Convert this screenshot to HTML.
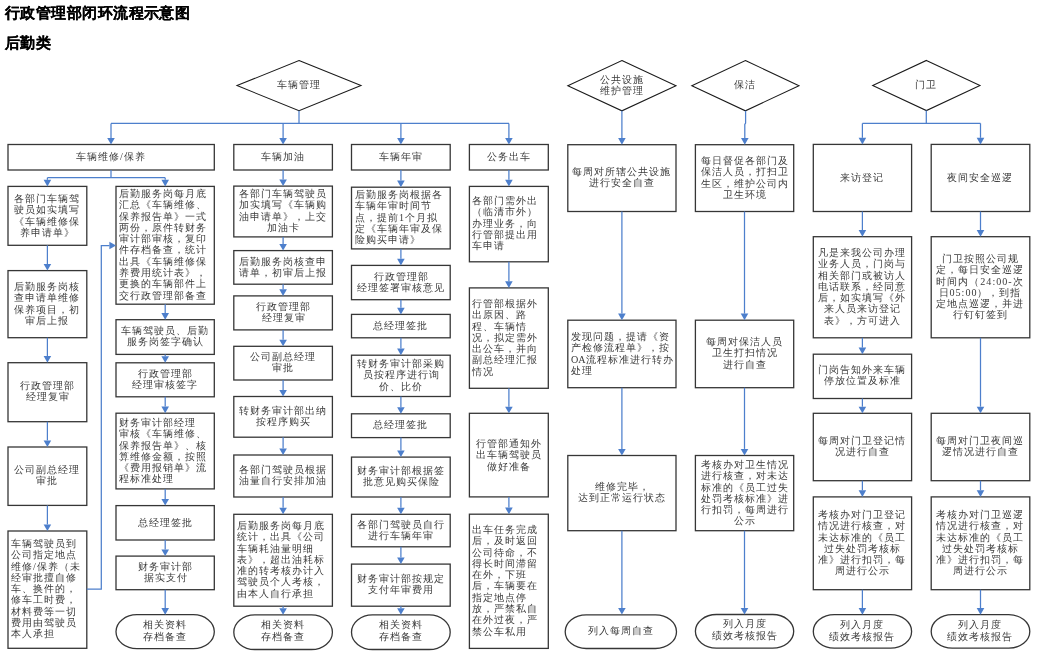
<!DOCTYPE html>
<html><head><meta charset="utf-8">
<style>
html,body{margin:0;padding:0;background:#fff;}
body{width:1049px;height:671px;position:relative;overflow:hidden;font-family:"Liberation Serif",serif;color:#222;}
.t{position:absolute;font-family:"Liberation Sans",sans-serif;font-weight:bold;color:#000;font-size:15px;line-height:18px;letter-spacing:0.45px;will-change:transform;-webkit-text-stroke:0.15px #000;white-space:nowrap;}
.b{position:absolute;box-sizing:border-box;padding-bottom:1.2px;display:flex;align-items:center;justify-content:center;}
.b div{will-change:transform;font-size:10.1px;line-height:11.3px;white-space:nowrap;color:#3a3a3a;letter-spacing:1.0px;}
.c div{text-align:center;}
.l{justify-content:flex-start;}
.tm div{line-height:12.3px;}
.l div{text-align:left;padding-left:3px;}
svg{position:absolute;left:0;top:0;}
</style></head><body>

<div class="t" style="left:5px;top:4px;">行政管理部闭环流程示意图</div>
<div class="t" style="left:5px;top:34px;">后勤类</div>
<svg width="1049" height="671" viewBox="0 0 1049 671">
<rect x="8.0" y="144.5" width="206.3" height="25.5" fill="#fff" stroke="#363636" stroke-width="1.3"/>
<rect x="8.0" y="186.4" width="78.8" height="58.9" fill="#fff" stroke="#363636" stroke-width="1.3"/>
<rect x="8.0" y="270.6" width="78.8" height="67.1" fill="#fff" stroke="#363636" stroke-width="1.3"/>
<rect x="8.0" y="362.7" width="78.8" height="59.0" fill="#fff" stroke="#363636" stroke-width="1.3"/>
<rect x="8.0" y="447.0" width="78.8" height="58.4" fill="#fff" stroke="#363636" stroke-width="1.3"/>
<rect x="8.0" y="531.0" width="78.8" height="117.3" fill="#fff" stroke="#363636" stroke-width="1.3"/>
<rect x="116.0" y="186.4" width="98.3" height="117.8" fill="#fff" stroke="#363636" stroke-width="1.3"/>
<rect x="116.0" y="319.7" width="98.3" height="34.7" fill="#fff" stroke="#363636" stroke-width="1.3"/>
<rect x="116.0" y="362.8" width="98.3" height="34.0" fill="#fff" stroke="#363636" stroke-width="1.3"/>
<rect x="116.0" y="413.2" width="98.3" height="75.7" fill="#fff" stroke="#363636" stroke-width="1.3"/>
<rect x="116.0" y="505.6" width="98.3" height="34.4" fill="#fff" stroke="#363636" stroke-width="1.3"/>
<rect x="116.0" y="556.1" width="98.3" height="33.6" fill="#fff" stroke="#363636" stroke-width="1.3"/>
<rect x="116.0" y="614.7" width="98.3" height="33.9" rx="21" ry="16.9" fill="#fff" stroke="#363636" stroke-width="1.3"/>
<rect x="233.8" y="144.5" width="98.6" height="25.5" fill="#fff" stroke="#363636" stroke-width="1.3"/>
<rect x="233.8" y="186.1" width="98.6" height="50.8" fill="#fff" stroke="#363636" stroke-width="1.3"/>
<rect x="233.8" y="250.6" width="98.6" height="33.6" fill="#fff" stroke="#363636" stroke-width="1.3"/>
<rect x="233.8" y="295.9" width="98.6" height="34.0" fill="#fff" stroke="#363636" stroke-width="1.3"/>
<rect x="233.8" y="346.3" width="98.6" height="33.7" fill="#fff" stroke="#363636" stroke-width="1.3"/>
<rect x="233.8" y="396.5" width="98.6" height="40.7" fill="#fff" stroke="#363636" stroke-width="1.3"/>
<rect x="233.8" y="455.0" width="98.6" height="42.0" fill="#fff" stroke="#363636" stroke-width="1.3"/>
<rect x="233.8" y="514.3" width="98.6" height="91.9" fill="#fff" stroke="#363636" stroke-width="1.3"/>
<rect x="233.8" y="614.8" width="98.6" height="34.7" rx="21" ry="17.4" fill="#fff" stroke="#363636" stroke-width="1.3"/>
<rect x="351.5" y="144.5" width="98.7" height="25.5" fill="#fff" stroke="#363636" stroke-width="1.3"/>
<rect x="351.5" y="187.2" width="98.7" height="61.7" fill="#fff" stroke="#363636" stroke-width="1.3"/>
<rect x="351.5" y="265.4" width="98.7" height="34.3" fill="#fff" stroke="#363636" stroke-width="1.3"/>
<rect x="351.5" y="314.4" width="98.7" height="23.4" fill="#fff" stroke="#363636" stroke-width="1.3"/>
<rect x="351.5" y="355.2" width="98.7" height="41.3" fill="#fff" stroke="#363636" stroke-width="1.3"/>
<rect x="351.5" y="413.8" width="98.7" height="23.8" fill="#fff" stroke="#363636" stroke-width="1.3"/>
<rect x="351.5" y="457.1" width="98.7" height="39.9" fill="#fff" stroke="#363636" stroke-width="1.3"/>
<rect x="351.5" y="514.3" width="98.7" height="32.5" fill="#fff" stroke="#363636" stroke-width="1.3"/>
<rect x="351.5" y="564.1" width="98.7" height="42.1" fill="#fff" stroke="#363636" stroke-width="1.3"/>
<rect x="351.5" y="614.8" width="98.7" height="34.7" rx="21" ry="17.4" fill="#fff" stroke="#363636" stroke-width="1.3"/>
<rect x="469.4" y="144.5" width="78.9" height="25.5" fill="#fff" stroke="#363636" stroke-width="1.3"/>
<rect x="469.4" y="186.4" width="78.9" height="75.4" fill="#fff" stroke="#363636" stroke-width="1.3"/>
<rect x="469.4" y="287.9" width="78.9" height="100.4" fill="#fff" stroke="#363636" stroke-width="1.3"/>
<rect x="469.4" y="413.3" width="78.9" height="83.6" fill="#fff" stroke="#363636" stroke-width="1.3"/>
<rect x="469.4" y="514.2" width="78.9" height="134.2" fill="#fff" stroke="#363636" stroke-width="1.3"/>
<rect x="567.8" y="144.7" width="108.2" height="66.8" fill="#fff" stroke="#363636" stroke-width="1.3"/>
<rect x="567.8" y="320.2" width="108.2" height="67.5" fill="#fff" stroke="#363636" stroke-width="1.3"/>
<rect x="567.8" y="455.5" width="108.2" height="75.2" fill="#fff" stroke="#363636" stroke-width="1.3"/>
<rect x="565.2" y="614.8" width="111.3" height="33.7" rx="21" ry="16.9" fill="#fff" stroke="#363636" stroke-width="1.3"/>
<rect x="695.4" y="144.7" width="98.3" height="66.8" fill="#fff" stroke="#363636" stroke-width="1.3"/>
<rect x="695.4" y="320.2" width="98.3" height="67.5" fill="#fff" stroke="#363636" stroke-width="1.3"/>
<rect x="695.4" y="455.5" width="98.3" height="75.2" fill="#fff" stroke="#363636" stroke-width="1.3"/>
<rect x="695.4" y="614.5" width="98.3" height="33.6" rx="21" ry="16.8" fill="#fff" stroke="#363636" stroke-width="1.3"/>
<rect x="813.3" y="144.4" width="98.3" height="67.1" fill="#fff" stroke="#363636" stroke-width="1.3"/>
<rect x="813.3" y="236.7" width="98.3" height="101.1" fill="#fff" stroke="#363636" stroke-width="1.3"/>
<rect x="813.3" y="354.2" width="98.3" height="44.3" fill="#fff" stroke="#363636" stroke-width="1.3"/>
<rect x="813.3" y="413.3" width="98.3" height="67.4" fill="#fff" stroke="#363636" stroke-width="1.3"/>
<rect x="813.3" y="496.9" width="98.3" height="92.8" fill="#fff" stroke="#363636" stroke-width="1.3"/>
<rect x="813.3" y="614.7" width="98.3" height="33.5" rx="21" ry="16.8" fill="#fff" stroke="#363636" stroke-width="1.3"/>
<rect x="931.2" y="144.4" width="98.6" height="67.1" fill="#fff" stroke="#363636" stroke-width="1.3"/>
<rect x="931.2" y="236.7" width="98.6" height="101.1" fill="#fff" stroke="#363636" stroke-width="1.3"/>
<rect x="931.2" y="413.3" width="98.6" height="67.4" fill="#fff" stroke="#363636" stroke-width="1.3"/>
<rect x="931.2" y="496.9" width="98.6" height="92.8" fill="#fff" stroke="#363636" stroke-width="1.3"/>
<rect x="931.2" y="614.7" width="98.6" height="33.5" rx="21" ry="16.8" fill="#fff" stroke="#363636" stroke-width="1.3"/>
<polygon points="299.0,60.5 361.0,85.6 299.0,110.7 237.0,85.6" fill="#fff" stroke="#1a1a1a" stroke-width="1.05"/>
<polygon points="621.9,60.5 676.0,85.7 621.9,110.8 567.8,85.7" fill="#fff" stroke="#1a1a1a" stroke-width="1.05"/>
<polygon points="745.4,60.5 799.0,85.7 745.4,110.8 691.8,85.7" fill="#fff" stroke="#1a1a1a" stroke-width="1.05"/>
<polygon points="926.4,60.4 980.0,85.5 926.4,110.6 872.7,85.5" fill="#fff" stroke="#1a1a1a" stroke-width="1.05"/>
<polyline points="299.0,110.7 299.0,123.4" fill="none" stroke="#4d7fcc" stroke-width="1.25"/>
<polyline points="111.0,123.4 509.0,123.4" fill="none" stroke="#4d7fcc" stroke-width="1.25"/>
<polyline points="111.0,123.4 111.0,137.9" fill="none" stroke="#4d7fcc" stroke-width="1.25"/>
<polygon points="107.2,137.9 114.8,137.9 111.0,144.5" fill="#4d7fcc"/>
<polyline points="283.1,123.4 283.1,137.9" fill="none" stroke="#4d7fcc" stroke-width="1.25"/>
<polygon points="279.3,137.9 286.9,137.9 283.1,144.5" fill="#4d7fcc"/>
<polyline points="400.9,123.4 400.9,137.9" fill="none" stroke="#4d7fcc" stroke-width="1.25"/>
<polygon points="397.1,137.9 404.7,137.9 400.9,144.5" fill="#4d7fcc"/>
<polyline points="508.9,123.4 508.9,137.9" fill="none" stroke="#4d7fcc" stroke-width="1.25"/>
<polygon points="505.1,137.9 512.7,137.9 508.9,144.5" fill="#4d7fcc"/>
<polyline points="111.0,170.0 111.0,177.7" fill="none" stroke="#4d7fcc" stroke-width="1.25"/>
<polyline points="47.4,177.7 165.2,177.7" fill="none" stroke="#4d7fcc" stroke-width="1.25"/>
<polyline points="47.4,177.7 47.4,179.8" fill="none" stroke="#4d7fcc" stroke-width="1.25"/>
<polygon points="43.6,179.8 51.2,179.8 47.4,186.4" fill="#4d7fcc"/>
<polyline points="165.2,177.7 165.2,179.8" fill="none" stroke="#4d7fcc" stroke-width="1.25"/>
<polygon points="161.4,179.8 169.0,179.8 165.2,186.4" fill="#4d7fcc"/>
<polyline points="47.4,245.3 47.4,264.0" fill="none" stroke="#4d7fcc" stroke-width="1.25"/>
<polygon points="43.6,264.0 51.2,264.0 47.4,270.6" fill="#4d7fcc"/>
<polyline points="47.4,337.7 47.4,356.1" fill="none" stroke="#4d7fcc" stroke-width="1.25"/>
<polygon points="43.6,356.1 51.2,356.1 47.4,362.7" fill="#4d7fcc"/>
<polyline points="47.4,421.7 47.4,440.4" fill="none" stroke="#4d7fcc" stroke-width="1.25"/>
<polygon points="43.6,440.4 51.2,440.4 47.4,447.0" fill="#4d7fcc"/>
<polyline points="47.4,505.4 47.4,524.4" fill="none" stroke="#4d7fcc" stroke-width="1.25"/>
<polygon points="43.6,524.4 51.2,524.4 47.4,531.0" fill="#4d7fcc"/>
<polyline points="86.8,589.2 101.3,589.2 101.3,245.5 109.4,245.5" fill="none" stroke="#4d7fcc" stroke-width="1.25"/>
<polygon points="109.4,241.7 109.4,249.3 116.0,245.5" fill="#4d7fcc"/>
<polyline points="165.2,304.2 165.2,313.1" fill="none" stroke="#4d7fcc" stroke-width="1.25"/>
<polygon points="161.4,313.1 169.0,313.1 165.2,319.7" fill="#4d7fcc"/>
<polyline points="165.2,354.4 165.2,356.2" fill="none" stroke="#4d7fcc" stroke-width="1.25"/>
<polygon points="161.4,356.2 169.0,356.2 165.2,362.8" fill="#4d7fcc"/>
<polyline points="165.2,396.8 165.2,406.6" fill="none" stroke="#4d7fcc" stroke-width="1.25"/>
<polygon points="161.4,406.6 169.0,406.6 165.2,413.2" fill="#4d7fcc"/>
<polyline points="165.2,488.9 165.2,499.0" fill="none" stroke="#4d7fcc" stroke-width="1.25"/>
<polygon points="161.4,499.0 169.0,499.0 165.2,505.6" fill="#4d7fcc"/>
<polyline points="165.2,540.0 165.2,549.5" fill="none" stroke="#4d7fcc" stroke-width="1.25"/>
<polygon points="161.4,549.5 169.0,549.5 165.2,556.1" fill="#4d7fcc"/>
<polyline points="165.2,589.7 165.2,608.1" fill="none" stroke="#4d7fcc" stroke-width="1.25"/>
<polygon points="161.4,608.1 169.0,608.1 165.2,614.7" fill="#4d7fcc"/>
<polyline points="283.1,170.0 283.1,179.5" fill="none" stroke="#4d7fcc" stroke-width="1.25"/>
<polygon points="279.3,179.5 286.9,179.5 283.1,186.1" fill="#4d7fcc"/>
<polyline points="283.1,236.9 283.1,244.0" fill="none" stroke="#4d7fcc" stroke-width="1.25"/>
<polygon points="279.3,244.0 286.9,244.0 283.1,250.6" fill="#4d7fcc"/>
<polyline points="283.1,284.2 283.1,289.3" fill="none" stroke="#4d7fcc" stroke-width="1.25"/>
<polygon points="279.3,289.3 286.9,289.3 283.1,295.9" fill="#4d7fcc"/>
<polyline points="283.1,329.9 283.1,339.7" fill="none" stroke="#4d7fcc" stroke-width="1.25"/>
<polygon points="279.3,339.7 286.9,339.7 283.1,346.3" fill="#4d7fcc"/>
<polyline points="283.1,380.0 283.1,389.9" fill="none" stroke="#4d7fcc" stroke-width="1.25"/>
<polygon points="279.3,389.9 286.9,389.9 283.1,396.5" fill="#4d7fcc"/>
<polyline points="283.1,437.2 283.1,448.4" fill="none" stroke="#4d7fcc" stroke-width="1.25"/>
<polygon points="279.3,448.4 286.9,448.4 283.1,455.0" fill="#4d7fcc"/>
<polyline points="283.1,497.0 283.1,507.7" fill="none" stroke="#4d7fcc" stroke-width="1.25"/>
<polygon points="279.3,507.7 286.9,507.7 283.1,514.3" fill="#4d7fcc"/>
<polyline points="283.1,606.2 283.1,608.2" fill="none" stroke="#4d7fcc" stroke-width="1.25"/>
<polygon points="279.3,608.2 286.9,608.2 283.1,614.8" fill="#4d7fcc"/>
<polyline points="400.9,170.0 400.9,180.6" fill="none" stroke="#4d7fcc" stroke-width="1.25"/>
<polygon points="397.1,180.6 404.7,180.6 400.9,187.2" fill="#4d7fcc"/>
<polyline points="400.9,248.9 400.9,258.8" fill="none" stroke="#4d7fcc" stroke-width="1.25"/>
<polygon points="397.1,258.8 404.7,258.8 400.9,265.4" fill="#4d7fcc"/>
<polyline points="400.9,299.7 400.9,307.8" fill="none" stroke="#4d7fcc" stroke-width="1.25"/>
<polygon points="397.1,307.8 404.7,307.8 400.9,314.4" fill="#4d7fcc"/>
<polyline points="400.9,337.8 400.9,348.6" fill="none" stroke="#4d7fcc" stroke-width="1.25"/>
<polygon points="397.1,348.6 404.7,348.6 400.9,355.2" fill="#4d7fcc"/>
<polyline points="400.9,396.5 400.9,407.2" fill="none" stroke="#4d7fcc" stroke-width="1.25"/>
<polygon points="397.1,407.2 404.7,407.2 400.9,413.8" fill="#4d7fcc"/>
<polyline points="400.9,437.6 400.9,450.5" fill="none" stroke="#4d7fcc" stroke-width="1.25"/>
<polygon points="397.1,450.5 404.7,450.5 400.9,457.1" fill="#4d7fcc"/>
<polyline points="400.9,497.0 400.9,507.7" fill="none" stroke="#4d7fcc" stroke-width="1.25"/>
<polygon points="397.1,507.7 404.7,507.7 400.9,514.3" fill="#4d7fcc"/>
<polyline points="400.9,546.8 400.9,557.5" fill="none" stroke="#4d7fcc" stroke-width="1.25"/>
<polygon points="397.1,557.5 404.7,557.5 400.9,564.1" fill="#4d7fcc"/>
<polyline points="400.9,606.2 400.9,608.2" fill="none" stroke="#4d7fcc" stroke-width="1.25"/>
<polygon points="397.1,608.2 404.7,608.2 400.9,614.8" fill="#4d7fcc"/>
<polyline points="508.9,170.0 508.9,179.8" fill="none" stroke="#4d7fcc" stroke-width="1.25"/>
<polygon points="505.1,179.8 512.7,179.8 508.9,186.4" fill="#4d7fcc"/>
<polyline points="508.9,261.8 508.9,281.3" fill="none" stroke="#4d7fcc" stroke-width="1.25"/>
<polygon points="505.1,281.3 512.7,281.3 508.9,287.9" fill="#4d7fcc"/>
<polyline points="508.9,388.3 508.9,406.7" fill="none" stroke="#4d7fcc" stroke-width="1.25"/>
<polygon points="505.1,406.7 512.7,406.7 508.9,413.3" fill="#4d7fcc"/>
<polyline points="508.9,496.9 508.9,507.6" fill="none" stroke="#4d7fcc" stroke-width="1.25"/>
<polygon points="505.1,507.6 512.7,507.6 508.9,514.2" fill="#4d7fcc"/>
<polyline points="621.9,110.8 621.9,138.1" fill="none" stroke="#4d7fcc" stroke-width="1.25"/>
<polygon points="618.1,138.1 625.7,138.1 621.9,144.7" fill="#4d7fcc"/>
<polyline points="621.9,211.5 621.9,313.6" fill="none" stroke="#4d7fcc" stroke-width="1.25"/>
<polygon points="618.1,313.6 625.7,313.6 621.9,320.2" fill="#4d7fcc"/>
<polyline points="621.9,387.7 621.9,448.9" fill="none" stroke="#4d7fcc" stroke-width="1.25"/>
<polygon points="618.1,448.9 625.7,448.9 621.9,455.5" fill="#4d7fcc"/>
<polyline points="621.9,530.7 621.9,607.9" fill="none" stroke="#4d7fcc" stroke-width="1.25"/>
<polygon points="618.1,607.9 625.7,607.9 621.9,614.5" fill="#4d7fcc"/>
<polyline points="745.6,110.8 745.6,123.0 744.8,124.5 744.8,138.1" fill="none" stroke="#4d7fcc" stroke-width="1.25"/>
<polygon points="741.0,138.1 748.6,138.1 744.8,144.7" fill="#4d7fcc"/>
<polyline points="744.5,211.5 744.5,313.6" fill="none" stroke="#4d7fcc" stroke-width="1.25"/>
<polygon points="740.7,313.6 748.3,313.6 744.5,320.2" fill="#4d7fcc"/>
<polyline points="744.5,387.7 744.5,448.9" fill="none" stroke="#4d7fcc" stroke-width="1.25"/>
<polygon points="740.7,448.9 748.3,448.9 744.5,455.5" fill="#4d7fcc"/>
<polyline points="744.5,530.7 744.5,607.9" fill="none" stroke="#4d7fcc" stroke-width="1.25"/>
<polygon points="740.7,607.9 748.3,607.9 744.5,614.5" fill="#4d7fcc"/>
<polyline points="926.3,110.6 926.3,123.4" fill="none" stroke="#4d7fcc" stroke-width="1.25"/>
<polyline points="862.4,123.4 980.5,123.4" fill="none" stroke="#4d7fcc" stroke-width="1.25"/>
<polyline points="862.4,123.4 862.4,137.8" fill="none" stroke="#4d7fcc" stroke-width="1.25"/>
<polygon points="858.6,137.8 866.2,137.8 862.4,144.4" fill="#4d7fcc"/>
<polyline points="980.5,123.4 980.5,137.8" fill="none" stroke="#4d7fcc" stroke-width="1.25"/>
<polygon points="976.7,137.8 984.3,137.8 980.5,144.4" fill="#4d7fcc"/>
<polyline points="862.4,211.5 862.4,230.1" fill="none" stroke="#4d7fcc" stroke-width="1.25"/>
<polygon points="858.6,230.1 866.2,230.1 862.4,236.7" fill="#4d7fcc"/>
<polyline points="862.4,337.8 862.4,347.6" fill="none" stroke="#4d7fcc" stroke-width="1.25"/>
<polygon points="858.6,347.6 866.2,347.6 862.4,354.2" fill="#4d7fcc"/>
<polyline points="862.4,398.5 862.4,406.7" fill="none" stroke="#4d7fcc" stroke-width="1.25"/>
<polygon points="858.6,406.7 866.2,406.7 862.4,413.3" fill="#4d7fcc"/>
<polyline points="862.4,480.7 862.4,490.3" fill="none" stroke="#4d7fcc" stroke-width="1.25"/>
<polygon points="858.6,490.3 866.2,490.3 862.4,496.9" fill="#4d7fcc"/>
<polyline points="862.4,589.7 862.4,608.1" fill="none" stroke="#4d7fcc" stroke-width="1.25"/>
<polygon points="858.6,608.1 866.2,608.1 862.4,614.7" fill="#4d7fcc"/>
<polyline points="980.5,211.5 980.5,230.1" fill="none" stroke="#4d7fcc" stroke-width="1.25"/>
<polygon points="976.7,230.1 984.3,230.1 980.5,236.7" fill="#4d7fcc"/>
<polyline points="980.5,337.8 980.5,406.7" fill="none" stroke="#4d7fcc" stroke-width="1.25"/>
<polygon points="976.7,406.7 984.3,406.7 980.5,413.3" fill="#4d7fcc"/>
<polyline points="980.5,480.7 980.5,490.3" fill="none" stroke="#4d7fcc" stroke-width="1.25"/>
<polygon points="976.7,490.3 984.3,490.3 980.5,496.9" fill="#4d7fcc"/>
<polyline points="980.5,589.7 980.5,608.1" fill="none" stroke="#4d7fcc" stroke-width="1.25"/>
<polygon points="976.7,608.1 984.3,608.1 980.5,614.7" fill="#4d7fcc"/>
</svg>
<div class="b c" style="left:8.0px;top:144.5px;width:206.3px;height:25.5px;"><div>车辆维修/保养</div></div>
<div class="b c" style="left:8.0px;top:186.4px;width:78.8px;height:58.9px;"><div>各部门车辆驾<br>驶员如实填写<br>《车辆维修保<br>养申请单》</div></div>
<div class="b c" style="left:8.0px;top:270.6px;width:78.8px;height:67.1px;"><div>后勤服务岗核<br>查申请单维修<br>保养项目，初<br>审后上报</div></div>
<div class="b c" style="left:8.0px;top:362.7px;width:78.8px;height:59.0px;"><div>行政管理部<br>经理复审</div></div>
<div class="b c" style="left:8.0px;top:447.0px;width:78.8px;height:58.4px;"><div>公司副总经理<br>审批</div></div>
<div class="b l" style="left:8.0px;top:531.0px;width:78.8px;height:117.3px;"><div>车辆驾驶员到<br>公司指定地点<br>维修/保养（未<br>经审批擅自修<br>车、换件的，<br>修车工时费，<br>材料费等一切<br>费用由驾驶员<br>本人承担</div></div>
<div class="b l" style="left:116.0px;top:186.4px;width:98.3px;height:117.8px;"><div>后勤服务岗每月底<br>汇总《车辆维修、<br>保养报告单》一式<br>两份，原件转财务<br>审计部审核，复印<br>件存档备查，统计<br>出具《车辆维修保<br>养费用统计表》，<br>更换的车辆部件上<br>交行政管理部备查</div></div>
<div class="b c" style="left:116.0px;top:319.7px;width:98.3px;height:34.7px;"><div>车辆驾驶员、后勤<br>服务岗签字确认</div></div>
<div class="b c" style="left:116.0px;top:362.8px;width:98.3px;height:34.0px;"><div>行政管理部<br>经理审核签字</div></div>
<div class="b l" style="left:116.0px;top:413.2px;width:98.3px;height:75.7px;"><div>财务审计部经理<br>审核《车辆维修、<br>保养报告单》、核<br>算维修金额，按照<br>《费用报销单》流<br>程标准处理</div></div>
<div class="b c" style="left:116.0px;top:505.6px;width:98.3px;height:34.4px;"><div>总经理签批</div></div>
<div class="b c" style="left:116.0px;top:556.1px;width:98.3px;height:33.6px;"><div>财务审计部<br>据实支付</div></div>
<div class="b c tm" style="left:116.0px;top:614.7px;width:98.3px;height:33.9px;"><div>相关资料<br>存档备查</div></div>
<div class="b c" style="left:233.8px;top:144.5px;width:98.6px;height:25.5px;"><div>车辆加油</div></div>
<div class="b c" style="left:233.8px;top:186.1px;width:98.6px;height:50.8px;"><div>各部门车辆驾驶员<br>加实填写《车辆购<br>油申请单》，上交<br>加油卡</div></div>
<div class="b c" style="left:233.8px;top:250.6px;width:98.6px;height:33.6px;"><div>后勤服务岗核查申<br>请单，初审后上报</div></div>
<div class="b c" style="left:233.8px;top:295.9px;width:98.6px;height:34.0px;"><div>行政管理部<br>经理复审</div></div>
<div class="b c" style="left:233.8px;top:346.3px;width:98.6px;height:33.7px;"><div>公司副总经理<br>审批</div></div>
<div class="b c" style="left:233.8px;top:396.5px;width:98.6px;height:40.7px;"><div>转财务审计部出纳<br>按程序购买</div></div>
<div class="b c" style="left:233.8px;top:455.0px;width:98.6px;height:42.0px;"><div>各部门驾驶员根据<br>油量自行安排加油</div></div>
<div class="b l" style="left:233.8px;top:514.3px;width:98.6px;height:91.9px;"><div>后勤服务岗每月底<br>统计，出具《公司<br>车辆耗油量明细<br>表》，超出油耗标<br>准的转考核办计入<br>驾驶员个人考核，<br>由本人自行承担</div></div>
<div class="b c tm" style="left:233.8px;top:614.8px;width:98.6px;height:34.7px;"><div>相关资料<br>存档备查</div></div>
<div class="b c" style="left:351.5px;top:144.5px;width:98.7px;height:25.5px;"><div>车辆年审</div></div>
<div class="b l" style="left:351.5px;top:187.2px;width:98.7px;height:61.7px;"><div>后勤服务岗根据各<br>车辆年审时间节<br>点，提前1个月拟<br>定《车辆年审及保<br>险购买申请》</div></div>
<div class="b c" style="left:351.5px;top:265.4px;width:98.7px;height:34.3px;"><div>行政管理部<br>经理签署审核意见</div></div>
<div class="b c" style="left:351.5px;top:314.4px;width:98.7px;height:23.4px;"><div>总经理签批</div></div>
<div class="b c" style="left:351.5px;top:355.2px;width:98.7px;height:41.3px;"><div>转财务审计部采购<br>员按程序进行询<br>价、比价</div></div>
<div class="b c" style="left:351.5px;top:413.8px;width:98.7px;height:23.8px;"><div>总经理签批</div></div>
<div class="b c" style="left:351.5px;top:457.1px;width:98.7px;height:39.9px;"><div>财务审计部根据签<br>批意见购买保险</div></div>
<div class="b c" style="left:351.5px;top:514.3px;width:98.7px;height:32.5px;"><div>各部门驾驶员自行<br>进行车辆年审</div></div>
<div class="b c" style="left:351.5px;top:564.1px;width:98.7px;height:42.1px;"><div>财务审计部按规定<br>支付年审费用</div></div>
<div class="b c tm" style="left:351.5px;top:614.8px;width:98.7px;height:34.7px;"><div>相关资料<br>存档备查</div></div>
<div class="b c" style="left:469.4px;top:144.5px;width:78.9px;height:25.5px;"><div>公务出车</div></div>
<div class="b l" style="left:469.4px;top:186.4px;width:78.9px;height:75.4px;"><div>各部门需外出<br>（临清市外）<br>办理业务，向<br>行管部提出用<br>车申请</div></div>
<div class="b l" style="left:469.4px;top:287.9px;width:78.9px;height:100.4px;"><div>行管部根据外<br>出原因、路<br>程、车辆情<br>况，拟定需外<br>出公车，并向<br>副总经理汇报<br>情况</div></div>
<div class="b c" style="left:469.4px;top:413.3px;width:78.9px;height:83.6px;"><div>行管部通知外<br>出车辆驾驶员<br>做好准备</div></div>
<div class="b l" style="left:469.4px;top:514.2px;width:78.9px;height:134.2px;"><div>出车任务完成<br>后，及时返回<br>公司待命，不<br>得长时间滞留<br>在外，下班<br>后，车辆要在<br>指定地点停<br>放，严禁私自<br>在外过夜，严<br>禁公车私用</div></div>
<div class="b c" style="left:567.8px;top:144.7px;width:108.2px;height:66.8px;"><div>每周对所辖公共设施<br>进行安全自查</div></div>
<div class="b l" style="left:567.8px;top:320.2px;width:108.2px;height:67.5px;"><div>发现问题，提请《资<br>产检修流程单》，按<br><span style="letter-spacing:0">OA</span>流程标准进行转办<br>处理</div></div>
<div class="b c" style="left:567.8px;top:455.5px;width:108.2px;height:75.2px;"><div>维修完毕，<br>达到正常运行状态</div></div>
<div class="b c tm" style="left:565.2px;top:614.8px;width:111.3px;height:33.7px;"><div>列入每周自查</div></div>
<div class="b c" style="left:695.4px;top:144.7px;width:98.3px;height:66.8px;"><div>每日督促各部门及<br>保洁人员，打扫卫<br>生区，维护公司内<br>卫生环境</div></div>
<div class="b c" style="left:695.4px;top:320.2px;width:98.3px;height:67.5px;"><div>每周对保洁人员<br>卫生打扫情况<br>进行自查</div></div>
<div class="b c" style="left:695.4px;top:455.5px;width:98.3px;height:75.2px;"><div>考核办对卫生情况<br>进行核查，对未达<br>标准的《员工过失<br>处罚考核标准》进<br>行扣罚，每周进行<br>公示</div></div>
<div class="b c tm" style="left:695.4px;top:614.5px;width:98.3px;height:33.6px;"><div>列入月度<br>绩效考核报告</div></div>
<div class="b c" style="left:813.3px;top:144.4px;width:98.3px;height:67.1px;"><div>来访登记</div></div>
<div class="b c" style="left:813.3px;top:236.7px;width:98.3px;height:101.1px;"><div>凡是来我公司办理<br>业务人员，门岗与<br>相关部门或被访人<br>电话联系，经同意<br>后，如实填写《外<br>来人员来访登记<br>表》，方可进入</div></div>
<div class="b c" style="left:813.3px;top:354.2px;width:98.3px;height:44.3px;"><div>门岗告知外来车辆<br>停放位置及标准</div></div>
<div class="b c" style="left:813.3px;top:413.3px;width:98.3px;height:67.4px;"><div>每周对门卫登记情<br>况进行自查</div></div>
<div class="b c" style="left:813.3px;top:496.9px;width:98.3px;height:92.8px;"><div>考核办对门卫登记<br>情况进行核查，对<br>未达标准的《员工<br>过失处罚考核标<br>准》进行扣罚，每<br>周进行公示</div></div>
<div class="b c tm" style="left:813.3px;top:614.7px;width:98.3px;height:33.5px;"><div>列入月度<br>绩效考核报告</div></div>
<div class="b c" style="left:931.2px;top:144.4px;width:98.6px;height:67.1px;"><div>夜间安全巡逻</div></div>
<div class="b c" style="left:931.2px;top:236.7px;width:98.6px;height:101.1px;"><div>门卫按照公司规<br>定，每日安全巡逻<br>时间内（24:00-次<br>日05:00），到指<br>定地点巡逻，并进<br>行钉钉签到</div></div>
<div class="b c" style="left:931.2px;top:413.3px;width:98.6px;height:67.4px;"><div>每周对门卫夜间巡<br>逻情况进行自查</div></div>
<div class="b c" style="left:931.2px;top:496.9px;width:98.6px;height:92.8px;"><div>考核办对门卫巡逻<br>情况进行核查，对<br>未达标准的《员工<br>过失处罚考核标<br>准》进行扣罚，每<br>周进行公示</div></div>
<div class="b c tm" style="left:931.2px;top:614.7px;width:98.6px;height:33.5px;"><div>列入月度<br>绩效考核报告</div></div>
<div class="b c" style="left:237.0px;top:60.5px;width:124.0px;height:50.2px;"><div>车辆管理</div></div>
<div class="b c" style="left:567.8px;top:60.5px;width:108.2px;height:50.3px;"><div>公共设施<br>维护管理</div></div>
<div class="b c" style="left:691.8px;top:60.5px;width:107.2px;height:50.3px;"><div>保洁</div></div>
<div class="b c" style="left:872.7px;top:60.4px;width:107.3px;height:50.2px;"><div>门卫</div></div>
</body></html>
